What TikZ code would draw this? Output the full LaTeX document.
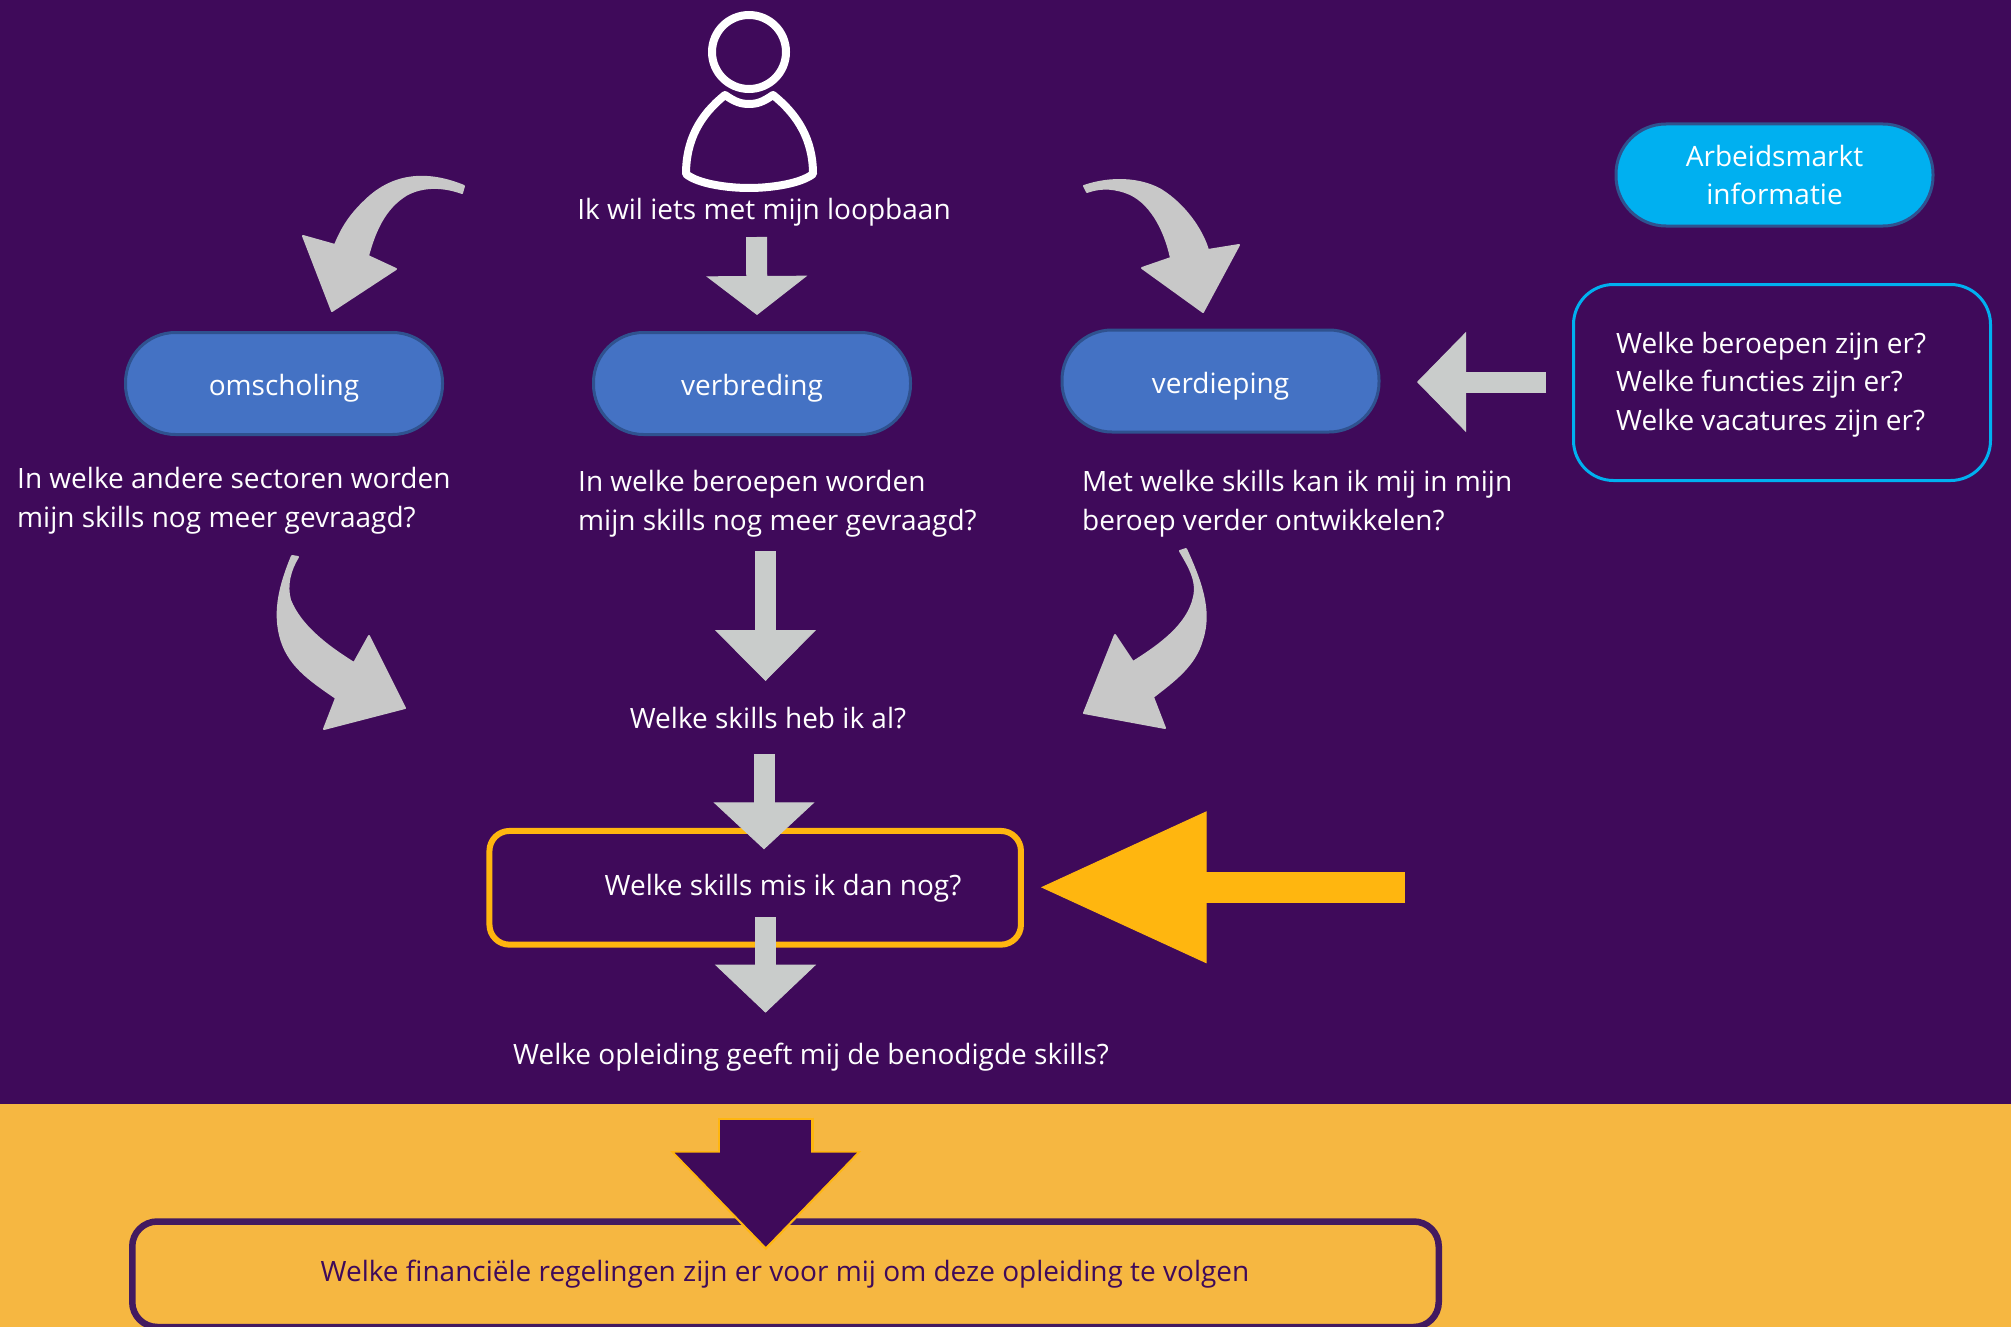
\documentclass[tikz,border=0pt]{standalone}
\usepackage{fontspec}
\setmainfont{Open Sans}
\usetikzlibrary{arrows.meta}
\definecolor{plum}{HTML}{3F0A5A}
\definecolor{randplum}{HTML}{431A60}
\definecolor{band}{HTML}{F6B741}
\definecolor{amber}{HTML}{FFB60F}
\definecolor{pill}{HTML}{4472C4}
\definecolor{pillrand}{HTML}{2F528F}
\definecolor{sky}{HTML}{00B0F0}
\definecolor{grijs}{HTML}{C9CCCB}
\definecolor{krom}{HTML}{C8C8C8}
\tikzset{
  tekst/.style={font=\fontsize{28}{38.5}\selectfont,text=white,inner sep=0pt,align=left},
  pilvorm/.style={tekst,align=center,minimum width=317pt,minimum height=102pt,rounded corners=50pt,line width=3pt,draw=pillrand,fill=pill},
  pilwoord/.style={text height=24pt,text depth=0pt},
  grijspijl/.style={draw=grijs,line width=21pt,-{Triangle[length=#1,width=101pt,line width=1pt,color=grijs]}},
  kromme/.style={fill=krom,draw=krom,line width=2pt,line join=round}
}
\begin{document}
\begin{tikzpicture}[x=1pt,y=-1pt]
    \useasboundingbox (0,0) rectangle (2011,1327);
    \fill[plum] (0,0) rectangle (2011,1104);
    \fill[band] (0,1104) rectangle (2011,1327);

    \draw[white,line width=8pt] (749,52) circle (37);
    \draw[white,line width=8pt,line join=round] (725,95) .. controls (735,102) and (741,104) .. (749,104) .. controls (757,104) and (763,102) .. (773,95) .. controls (798,115) and (813,140) .. (813,174) .. controls (800,184) and (770,188) .. (749,188) .. controls (728,188) and (698,184) .. (686,174) .. controls (686,140) and (700,115) .. (725,95) -- cycle;

    \node[tekst] (ikwil) at (764,212.5) {Ik wil iets met mijn loopbaan};

    \node[pilvorm,pilwoord] (omscholing) at (284,383.5) {omscholing};
    \node[pilvorm,pilwoord] (verbreding) at (752,383.5) {verbreding};
    \node[pilvorm,pilwoord] (verdieping) at (1220.5,381) {verdieping};
    \node[pilvorm,fill=sky] (arbeidsmarkt) at (1774.5,175) {Arbeidsmarkt\\informatie};

    \node[tekst,anchor=west] (andere) at (17,500.5) {In welke andere sectoren worden\\mijn skills nog meer gevraagd?};
    \node[tekst,anchor=west] (beroepen) at (578,503.5) {In welke beroepen worden\\mijn skills nog meer gevraagd?};
    \node[tekst,anchor=west] (ontwikkelen) at (1082,503.5) {Met welke skills kan ik mij in mijn\\beroep verder ontwikkelen?};

    \node[draw=sky,line width=3pt,rounded corners=40pt,minimum width=417pt,minimum height=196pt] (vragenbox) at (1782,382.5) {};
    \node[tekst,anchor=west] (vragen) at (1616,384.5) {Welke beroepen zijn er?\\Welke functies zijn er?\\Welke vacatures zijn er?};

    \node[tekst] (heb) at (768,718) {Welke skills heb ik al?};
    \node[draw=amber,line width=6pt,rounded corners=20pt,minimum width=531.5pt,minimum height=113.7pt] (misbox) at (755.2,887.8) {};
    \node[tekst] (mis) at (783,888.5) {Welke skills mis ik dan nog?};
    \node[tekst] (opleiding) at (811,1057.5) {Welke opleiding geeft mij de benodigde skills?};

    \node[draw=randplum,line width=6.5pt,rounded corners=25pt,minimum width=1306.5pt,minimum height=105.5pt] (regelbox) at (785.5,1274.25) {};
    \node[tekst,text=plum] (regelingen) at (785,1274.5) {Welke financiële regelingen zijn er voor mij om deze opleiding te volgen};

    \draw[grijspijl=39pt] ([shift={(-7.5,24.5)}]ikwil.center) -- ([shift={(5,-68.5)}]verbreding.center);
    \draw[grijspijl=51pt] ([shift={(13.5,47.5)}]beroepen.west -| verbreding.center) -- ([shift={(-2.5,-37)}]heb.center);
    \draw[grijspijl=47pt] ([shift={(-4,36)}]heb.center) -- ([shift={(8.8,-38.5)}]misbox.center);
    \draw[grijspijl=48pt] ([shift={(10.3,29.2)}]misbox.center) -- ([shift={(-45.5,-44.8)}]opleiding.center);
    \draw[draw=grijs,line width=21pt,-{Triangle[length=49pt,width=100pt,line width=1pt,color=grijs]}] ([shift={(-236,-0.5)}]vragenbox.center) -- ([shift={(196.5,1)}]verdieping.center);

    \draw[amber,line width=31pt,-{Triangle[length=165.7pt,width=152pt,line width=1pt,color=amber]}] ([shift={(649.8,-0.5)}]misbox.center) -- ([shift={(285.8,-0.5)}]misbox.center);

    \draw[amber,line width=95.5pt,-{Triangle[length=99pt,width=191pt,line width=1pt,color=amber]}] ([shift={(-19.2,-156.8)}]regelingen.center) -- ([shift={(-19.2,-24.5)}]regelingen.center);
    \draw[plum,line width=91.3pt,-{Triangle[length=94pt,width=182pt,line width=1pt,color=plum]}] ([shift={(-19.2,-154.5)}]regelingen.center) -- ([shift={(-19.2,-27.8)}]regelingen.center);

    \coordinate (staartA) at (464,186);
    \coordinate (puntA) at (332,311);
    \fill[kromme] (staartA) .. controls (430,172) and (395,172) .. (366,200) .. controls (350,215) and (342,228) .. (335,245) -- (303,236) -- (puntA) -- (396,269) -- (368,256) .. controls (375,230) and (385,208) .. (406,195) .. controls (420,187) and (440,185) .. (462,193) -- cycle;

    \coordinate (staartB) at (1084,186);
    \coordinate (puntB) at (1203,312);
    \fill[kromme] (staartB) .. controls (1110,177) and (1140,178) .. (1161,190) .. controls (1185,205) and (1202,230) .. (1208,250) -- (1239,245) -- (puntB) -- (1142,268) -- (1171,258) .. controls (1165,230) and (1150,200) .. (1125,192) .. controls (1110,187) and (1098,188) .. (1087,192) -- cycle;

    \coordinate (staartC) at (292,556);
    \coordinate (puntC) at (405,708);
    \fill[kromme] (staartC) .. controls (280,585) and (274,610) .. (280,635) .. controls (287,665) and (310,680) .. (336,698) -- (324,729) -- (puntC) -- (369,636) -- (354,663) .. controls (325,645) and (300,625) .. (290,600) .. controls (286,585) and (290,570) .. (298,557) -- cycle;

    \coordinate (staartD) at (1186,549);
    \coordinate (puntD) at (1084,713);
    \fill[kromme] (staartD) .. controls (1200,580) and (1212,610) .. (1202,640) .. controls (1195,665) and (1175,680) .. (1153,697) -- (1165,728) -- (puntD) -- (1115,635) -- (1133,662) .. controls (1160,645) and (1188,625) .. (1194,597) .. controls (1198,580) and (1188,565) .. (1180,551) -- cycle;
\end{tikzpicture}
\end{document}
